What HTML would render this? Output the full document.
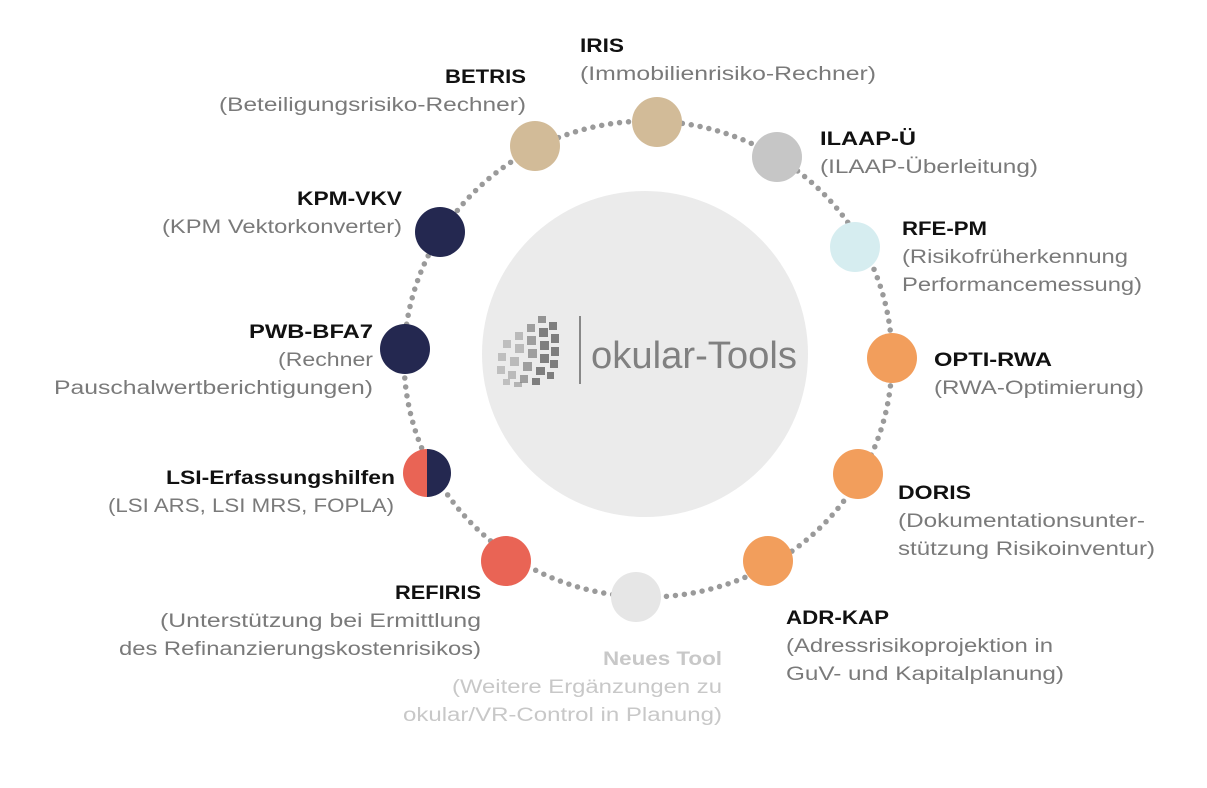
<!DOCTYPE html>
<html><head><meta charset="utf-8"><style>
html,body{margin:0;padding:0;background:#fff;}
svg{display:block}
text{font-family:"Liberation Sans",sans-serif;font-size:19px}
.b{font-weight:bold;fill:#111}
.g{fill:#7a7a7a}
.n{fill:#c8c8c8;font-weight:bold}
.nl{fill:#c8c8c8}
</style></head><body>
<svg width="1207" height="788" viewBox="0 0 1207 788" xmlns="http://www.w3.org/2000/svg">
<circle cx="645" cy="354" r="163" fill="#ebebeb"/>
<ellipse cx="648" cy="359" rx="244" ry="238" fill="none" stroke="#9a9a9a" stroke-width="5.5" stroke-linecap="round" stroke-dasharray="0 9"/>
<!-- logo -->
<g fill="#7e7e7e">
<rect x="538" y="316" width="8" height="7" opacity=".8"/><rect x="549" y="322" width="8" height="8"/>
<rect x="527" y="324" width="8" height="8" opacity=".7"/><rect x="539" y="328" width="9" height="9"/><rect x="551" y="334" width="8" height="9"/>
<rect x="515" y="332" width="8" height="8" opacity=".45"/><rect x="527" y="336" width="9" height="9" opacity=".7"/><rect x="540" y="341" width="9" height="9"/><rect x="551" y="347" width="8" height="9"/>
<rect x="503" y="340" width="8" height="8" opacity=".4"/><rect x="515" y="344" width="9" height="9" opacity=".45"/><rect x="528" y="349" width="9" height="9" opacity=".7"/><rect x="540" y="354" width="9" height="9"/><rect x="550" y="360" width="8" height="8"/>
<rect x="498" y="353" width="8" height="8" opacity=".4"/><rect x="510" y="357" width="9" height="9" opacity=".45"/><rect x="523" y="362" width="9" height="9" opacity=".7"/><rect x="536" y="367" width="9" height="8"/><rect x="547" y="372" width="7" height="7"/>
<rect x="497" y="366" width="8" height="8" opacity=".4"/><rect x="508" y="371" width="8" height="8" opacity=".45"/><rect x="520" y="375" width="8" height="8" opacity=".7"/><rect x="532" y="378" width="8" height="7"/>
<rect x="503" y="379" width="7" height="6" opacity=".4"/><rect x="514" y="382" width="8" height="5" opacity=".5"/>
</g>
<rect x="579" y="316" width="2" height="68" fill="#888"/>
<text x="591" y="368" style="font-size:38px" fill="#808080" textLength="206" lengthAdjust="spacingAndGlyphs">okular-Tools</text>
<!-- nodes -->
<circle cx="657" cy="122" r="25" fill="#d2bb98"/>
<circle cx="535" cy="146" r="25" fill="#d2bb98"/>
<circle cx="777" cy="157" r="25" fill="#c6c6c6"/>
<circle cx="855" cy="247" r="25" fill="#d6edf0"/>
<circle cx="892" cy="358" r="25" fill="#f29e5c"/>
<circle cx="858" cy="474" r="25" fill="#f29e5c"/>
<circle cx="768" cy="561" r="25" fill="#f29e5c"/>
<circle cx="636" cy="597" r="25" fill="#e6e6e6"/>
<circle cx="506" cy="561" r="25" fill="#e96455"/>
<circle cx="440" cy="232" r="25" fill="#242850"/>
<circle cx="405" cy="349" r="25" fill="#242850"/>
<path d="M427 449 A24 24 0 0 0 427 497 Z" fill="#e96455"/>
<path d="M427 449 A24 24 0 0 1 427 497 Z" fill="#242850"/>
<!-- labels -->
<text class="b" x="580" y="52" textLength="44" lengthAdjust="spacingAndGlyphs">IRIS</text>
<text class="g" x="580" y="80" textLength="296" lengthAdjust="spacingAndGlyphs">(Immobilienrisiko-Rechner)</text>
<text class="b" x="445" y="83" textLength="81" lengthAdjust="spacingAndGlyphs">BETRIS</text>
<text class="g" x="219" y="111" textLength="307" lengthAdjust="spacingAndGlyphs">(Beteiligungsrisiko-Rechner)</text>
<text class="b" x="820" y="145" textLength="96" lengthAdjust="spacingAndGlyphs">ILAAP-Ü</text>
<text class="g" x="820" y="173" textLength="218" lengthAdjust="spacingAndGlyphs">(ILAAP-Überleitung)</text>
<text class="b" x="297" y="205" textLength="105" lengthAdjust="spacingAndGlyphs">KPM-VKV</text>
<text class="g" x="162" y="233" textLength="240" lengthAdjust="spacingAndGlyphs">(KPM Vektorkonverter)</text>
<text class="b" x="902" y="235" textLength="85" lengthAdjust="spacingAndGlyphs">RFE-PM</text>
<text class="g" x="902" y="263" textLength="226" lengthAdjust="spacingAndGlyphs">(Risikofrüherkennung</text>
<text class="g" x="902" y="291" textLength="240" lengthAdjust="spacingAndGlyphs">Performancemessung)</text>
<text class="b" x="249" y="338" textLength="124" lengthAdjust="spacingAndGlyphs">PWB-BFA7</text>
<text class="g" x="278" y="366" textLength="95" lengthAdjust="spacingAndGlyphs">(Rechner</text>
<text class="g" x="54" y="394" textLength="319" lengthAdjust="spacingAndGlyphs">Pauschalwertberichtigungen)</text>
<text class="b" x="934" y="366" textLength="118" lengthAdjust="spacingAndGlyphs">OPTI-RWA</text>
<text class="g" x="934" y="394" textLength="210" lengthAdjust="spacingAndGlyphs">(RWA-Optimierung)</text>
<text class="b" x="166" y="484" textLength="229" lengthAdjust="spacingAndGlyphs">LSI-Erfassungshilfen</text>
<text class="g" x="108" y="512" textLength="286" lengthAdjust="spacingAndGlyphs">(LSI ARS, LSI MRS, FOPLA)</text>
<text class="b" x="898" y="499" textLength="73" lengthAdjust="spacingAndGlyphs">DORIS</text>
<text class="g" x="898" y="527" textLength="247" lengthAdjust="spacingAndGlyphs">(Dokumentationsunter-</text>
<text class="g" x="898" y="555" textLength="257" lengthAdjust="spacingAndGlyphs">stützung Risikoinventur)</text>
<text class="b" x="395" y="599" textLength="86" lengthAdjust="spacingAndGlyphs">REFIRIS</text>
<text class="g" x="160" y="627" textLength="321" lengthAdjust="spacingAndGlyphs">(Unterstützung bei Ermittlung</text>
<text class="g" x="119" y="655" textLength="362" lengthAdjust="spacingAndGlyphs">des Refinanzierungskostenrisikos)</text>
<text class="b" x="786" y="624" textLength="103" lengthAdjust="spacingAndGlyphs">ADR-KAP</text>
<text class="g" x="786" y="652" textLength="267" lengthAdjust="spacingAndGlyphs">(Adressrisikoprojektion in</text>
<text class="g" x="786" y="680" textLength="278" lengthAdjust="spacingAndGlyphs">GuV- und Kapitalplanung)</text>
<text class="n" x="603" y="665" textLength="119" lengthAdjust="spacingAndGlyphs">Neues Tool</text>
<text class="nl" x="452" y="693" textLength="270" lengthAdjust="spacingAndGlyphs">(Weitere Ergänzungen zu</text>
<text class="nl" x="403" y="721" textLength="319" lengthAdjust="spacingAndGlyphs">okular/VR-Control in Planung)</text>
</svg>
</body></html>
